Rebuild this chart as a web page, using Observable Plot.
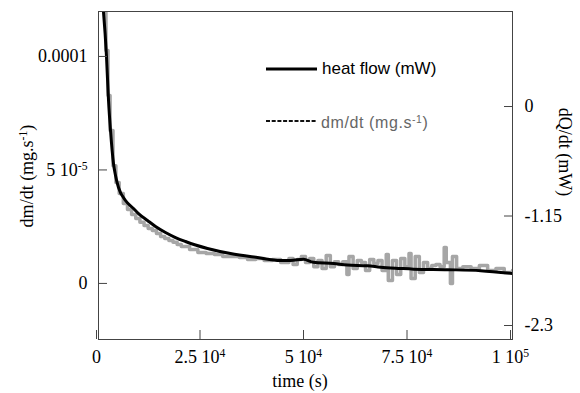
<!DOCTYPE html>
<html><head><meta charset="utf-8">
<script src="https://cdn.jsdelivr.net/npm/d3@7"></script>
<script src="https://cdn.jsdelivr.net/npm/@observablehq/plot@0.6"></script>
<style>body{margin:0;background:#fff}</style>
</head><body><div id="chart"></div>
<script>
// dm/dt series (mg/s), step data
const timeDm = [1000,1800,2300,2800,3500,4200,5000,6000,7000,8000,9000,10000,11000,12000,13000,14000,15000,16000,17000,18000,19000,20000,22000,24000,26000,28000,30000,32000,34000,36000,38000,40000,42000,44000,46000,47000,48000,49000,50000,51000,52000,53000,54000,55000,56000,57000,58000,59000,60000,60500,61500,62500,63500,64500,65500,66500,67500,68500,69500,70000,71000,72000,73000,74000,75000,75500,76500,77500,78500,79500,80500,81500,82500,83500,84000,85000,85500,86500,88000,90000,92000,94000,96000,98000,100000];
const dmdt = [1.246e-4,1.026e-4,8.28e-5,6.74e-5,5.19e-5,4.45e-5,3.96e-5,3.52e-5,3.26e-5,3.04e-5,2.86e-5,2.69e-5,2.55e-5,2.42e-5,2.33e-5,2.20e-5,2.07e-5,1.98e-5,1.89e-5,1.81e-5,1.72e-5,1.63e-5,1.49e-5,1.36e-5,1.32e-5,1.27e-5,1.19e-5,1.19e-5,1.14e-5,1.05e-5,1.10e-5,1.01e-5,1.05e-5,9.2e-6,1.10e-5,8.3e-6,1.05e-5,1.19e-5,9.2e-6,1.10e-5,7.4e-6,1.01e-5,6.6e-6,1.23e-5,7.4e-6,9.6e-6,8.3e-6,9.6e-6,3.9e-6,1.19e-5,6.6e-6,1.01e-5,9.2e-6,5.7e-6,1.05e-5,8.8e-6,1.01e-5,5.7e-6,1.27e-5,1.3e-6,1.01e-5,3.9e-6,1.10e-5,7.4e-6,1.32e-5,2.2e-6,1.19e-5,4.8e-6,9.2e-6,6.6e-6,7.9e-6,8.3e-6,7.4e-6,1.58e-5,9.2e-6,0,1.19e-5,6.6e-6,7.4e-6,6.6e-6,7.9e-6,5.7e-6,6.6e-6,4.8e-6,5.7e-6];
// heat flow series (mW)
const timeHf = [966,1200,1930,2420,2900,3620,4110,4830,6520,8450,9660,11830,13770,16180,18600,21010,23430,26320,31880,38400,43900,46400,49500,51900,56800,60100,65000,68100,72900,76100,84300,92300,100000];
const heatflow = [1.113,0.998,0.525,0.063,-0.252,-0.599,-0.725,-0.851,-0.987,-1.071,-1.124,-1.197,-1.260,-1.323,-1.376,-1.418,-1.455,-1.491,-1.544,-1.586,-1.617,-1.617,-1.604,-1.636,-1.649,-1.665,-1.672,-1.688,-1.701,-1.708,-1.714,-1.724,-1.754];
// ticks
const xTicks = [0, 25000, 50000, 75000, 100000];
const xTickLabels = ["0", "2.5 10^{4}", "5 10^{4}", "7.5 10^{4}", "1 10^{5}"];
const leftTicks = [0, 5e-5, 1e-4];
const leftTickLabels = ["0", "5 10^{-5}", "0.0001"];
const rightTicks = [-2.3, -1.15, 0];
const rightTickLabels = ["-2.3", "-1.15", "0"];
const leftDomain = [-2.47e-5, 1.198e-4];
const rightDomain = [-2.447, 0.998];

const q2v = d3.scaleLinear().domain(rightDomain).range(leftDomain);
const dmData = timeDm.map((t, i) => ({t, v: dmdt[i]}));
const hfData = timeHf.map((t, i) => ({t, v: q2v(heatflow[i])}));
const rightTickV = rightTicks.map(q2v);
const lab = (ticks, labels) => { const m = new Map(ticks.map((d, i) => [d, labels[i]])); return d => m.get(d); };

const chart = Plot.plot({
  width: 580, height: 393,
  marginLeft: 98, marginRight: 68, marginTop: 11, marginBottom: 54,
  style: {fontFamily: "'Liberation Serif', serif", fontSize: "18px", color: "#000", background: "#fff"},
  x: {domain: [0, 100000]},
  y: {domain: leftDomain},
  marks: [
    Plot.line(dmData, {x: "t", y: "v", curve: "step-after", stroke: "#a6a6a6", strokeWidth: 3.5, clip: true}),
    Plot.line(hfData, {x: "t", y: "v", curve: "monotone-x", stroke: "#000", strokeWidth: 3, clip: true}),
    Plot.frame({stroke: "#444"}),
    Plot.axisX(xTicks, {tickSize: -9, tickPadding: 20, stroke: "#444", fill: "#000", tickFormat: lab(xTicks, xTickLabels), label: null, dx: -2}),
    Plot.axisY(leftTicks, {anchor: "left", tickSize: -9, tickPadding: 20, stroke: "#444", fill: "#000", tickFormat: lab(leftTicks, leftTickLabels), label: null}),
    Plot.axisY(rightTickV, {anchor: "right", tickSize: -9, tickPadding: 21, stroke: "#444", fill: "#000", tickFormat: lab(rightTickV, rightTickLabels), label: null})
  ]
});
document.getElementById("chart").appendChild(chart);

const svg = d3.select(chart);
const serif = "'Liberation Serif', serif", sans = "'Liberation Sans', Arial, sans-serif";
// axis titles
svg.append("text").attr("x", 300).attr("y", 387).attr("text-anchor", "middle")
  .attr("font-family", serif).attr("font-size", 18).text("time (s)");
svg.append("text").attr("transform", "translate(33,176) rotate(-90)").attr("text-anchor", "middle")
  .attr("font-family", serif).attr("font-size", 18).text("dm/dt (mg.s^{-1})");
svg.append("text").attr("transform", "translate(559,152) rotate(90)").attr("text-anchor", "middle")
  .attr("font-family", serif).attr("font-size", 18).text("dQ/dt (mW)");
// legend
svg.append("line").attr("x1", 266).attr("x2", 317).attr("y1", 69).attr("y2", 69).attr("stroke", "#000").attr("stroke-width", 2.8);
svg.append("text").attr("x", 322).attr("y", 74).attr("text-anchor", "start").attr("font-family", sans).attr("font-size", 17).attr("fill", "#000").text("heat flow (mW)");
svg.append("line").attr("x1", 266).attr("x2", 317).attr("y1", 121).attr("y2", 121).attr("stroke", "#111").attr("stroke-width", 2.2).attr("stroke-dasharray", "4,1.7");
svg.append("text").attr("x", 321).attr("y", 128).attr("text-anchor", "start").attr("font-family", sans).attr("font-size", 16).attr("letter-spacing", "0.6px").attr("fill", "#666").text("dm/dt (mg.s^{-1})");

// superscripts
const ns = "http://www.w3.org/2000/svg";
chart.querySelectorAll("text").forEach(t => {
  const s = t.textContent;
  if (!s.includes("^{")) return;
  while (t.firstChild) t.removeChild(t.firstChild);
  const re = /\^\{([^}]*)\}/g; let last = 0, m;
  const add = (txt, sup) => {
    if (!txt) return;
    const sp = document.createElementNS(ns, "tspan");
    sp.textContent = txt;
    if (sup) { sp.setAttribute("baseline-shift", "super"); sp.setAttribute("font-size", "65%"); }
    t.appendChild(sp);
  };
  while ((m = re.exec(s))) { add(s.slice(last, m.index), false); add(m[1], true); last = re.lastIndex; }
  add(s.slice(last), false);
});
</script>
</body></html>
